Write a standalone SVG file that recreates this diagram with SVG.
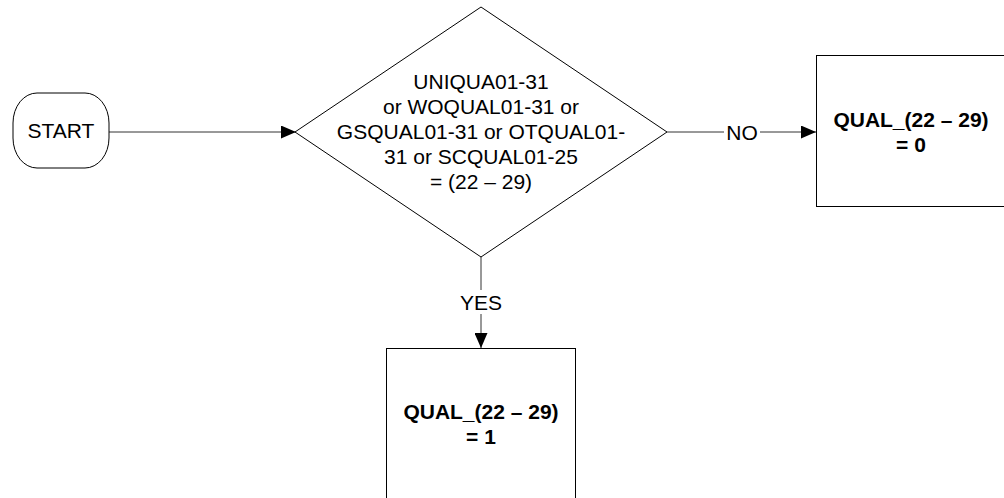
<svg xmlns="http://www.w3.org/2000/svg" width="1004" height="498" viewBox="0 0 1004 498">
<defs>
<marker id="arr" markerWidth="15" markerHeight="13" refX="15" refY="6.5" orient="auto" markerUnits="userSpaceOnUse">
<path d="M0,0 L15,6.5 L0,13 Z" fill="#000"/>
</marker>
<style>
.shape{fill:#fff;stroke:#000;stroke-width:1}
.conn{fill:none;stroke:#333;stroke-width:1}
.t{font-family:"Liberation Sans",Arial,sans-serif;font-size:21px;fill:#000;text-anchor:middle}
.b{font-weight:bold}
.lbl{font-family:"Liberation Sans",Arial,sans-serif;font-size:21px;fill:#000;text-anchor:middle}
</style>
</defs>
<rect width="1004" height="498" fill="#fff"/>
<g id="connectors">
<line class="conn" x1="109" y1="132" x2="296" y2="132" marker-end="url(#arr)"/>
<line class="conn" x1="667" y1="132" x2="816" y2="132" marker-end="url(#arr)"/>
<line class="conn" x1="481" y1="257" x2="481" y2="348" marker-end="url(#arr)"/>
<rect x="724" y="120" width="36" height="24" fill="#fff"/>
<text class="lbl" x="742" y="139.5">NO</text>
<rect x="460" y="290" width="42" height="24" fill="#fff"/>
<text class="lbl" x="481" y="309.5">YES</text>
</g>
<g id="start">
<rect class="shape" x="13" y="93" width="96" height="75" rx="24" ry="30"/>
<text class="t" x="61" y="138">START</text>
</g>
<g id="decision">
<polygon class="shape" points="295,132 481,7 667,132 481,257"/>
<text class="t" x="481" y="89">UNIQUA01-31</text>
<text class="t" x="481" y="114">or WOQUAL01-31 or</text>
<text class="t" x="481" y="139">GSQUAL01-31 or OTQUAL01-</text>
<text class="t" x="481" y="164">31 or SCQUAL01-25</text>
<text class="t" x="481" y="189">= (22 – 29)</text>
</g>
<g id="qual0">
<rect class="shape" x="816.5" y="55.5" width="190" height="151"/>
<text class="t b" x="911" y="127">QUAL_(22 – 29)</text>
<text class="t b" x="911" y="152">= 0</text>
</g>
<g id="qual1">
<rect class="shape" x="386.5" y="348.5" width="189" height="152"/>
<text class="t b" x="481" y="419">QUAL_(22 – 29)</text>
<text class="t b" x="481" y="444">= 1</text>
</g>
</svg>
